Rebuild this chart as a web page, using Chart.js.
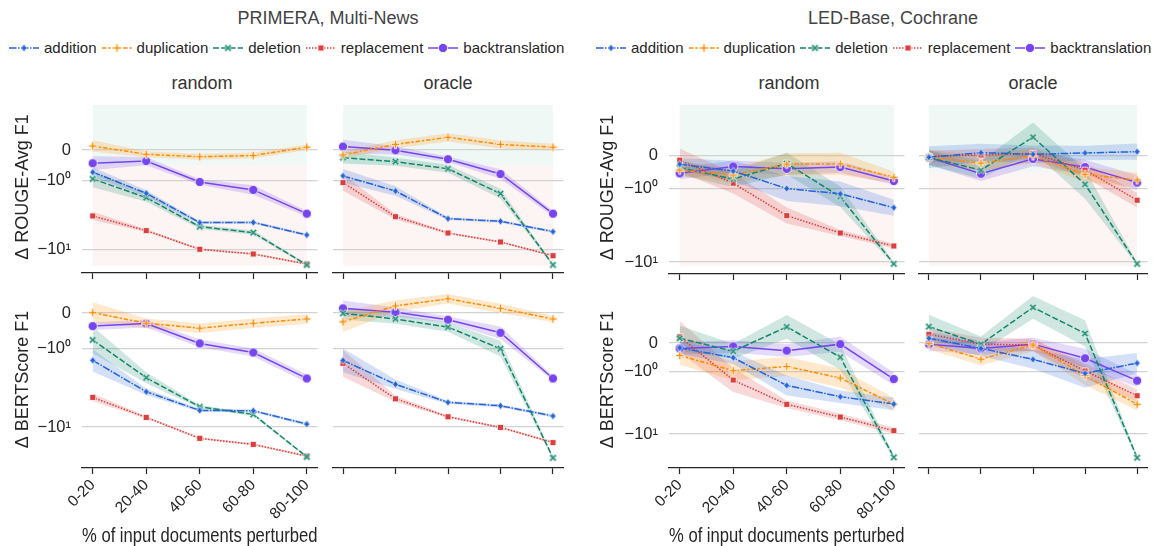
<!DOCTYPE html>
<html>
<head>
<meta charset="utf-8">
<script src="https://cdn.jsdelivr.net/npm/chart.js@4.4.0/dist/chart.umd.min.js"></script>
<style>
    body { margin: 0; background: #fff; width: 1153px; height: 546px; overflow: hidden; position: relative;
           font-family: "Liberation Sans", Arial, sans-serif; color: #262626; }
    canvas.panel { position: absolute; }
    .gtitle { position: absolute; font-size: 18px; line-height: 20px; color: #444; transform: translateX(-50%); white-space: nowrap; }
    .ptitle { position: absolute; font-size: 18px; line-height: 20px; color: #333; transform: translateX(-50%); white-space: nowrap; }
    .legend { position: absolute; display: flex; align-items: center; font-size: 15px; line-height: 18px; white-space: nowrap; }
    .legend .item { display: flex; align-items: center; margin-right: 5px; }
    .legend canvas { margin-right: 5px; }
</style>
</head>
<body>
<div class="gtitle" style="left:328px; top:8px;">PRIMERA, Multi-News</div>
<div class="gtitle" style="left:893px; top:8px;">LED-Base, Cochrane</div>
<div class="legend" id="legend-left" style="left:9px; top:39px;"></div>
<div class="legend" id="legend-right" style="left:596px; top:39px;"></div>
<div class="ptitle" style="left:202px; top:73px;">random</div>
<div class="ptitle" style="left:448px; top:73px;">oracle</div>
<div class="ptitle" style="left:789px; top:73px;">random</div>
<div class="ptitle" style="left:1033px; top:73px;">oracle</div>

<script>
const categories = ['0-20', '20-40', '40-60', '60-80', '80-100'];
const perturbations = ['addition', 'duplication', 'deletion', 'replacement', 'backtranslation'];
const yTickValues = [0, -1, -10];
const yTickLabels = ['0', '\u221210\u2070', '\u221210\u00b9'];

// rows of every table: addition, duplication, deletion, replacement, backtranslation
// PRIMERA, Multi-News -- delta ROUGE-Avg F1
const mnRougeRandom = [
    [-0.72, -1.52, -4.08, -4.05, -6.18],
    [0.13, -0.14, -0.22, -0.18, 0.09],
    [-0.94, -1.76, -4.68, -5.71, -16.9],
    [-3.26, -5.34, -10.0, -11.7, -16.4],
    [-0.43, -0.36, -1.04, -1.36, -3.02],
];
const mnRougeOracle = [
    [-0.84, -1.41, -3.57, -3.90, -5.53],
    [-0.16, 0.18, 0.41, 0.18, 0.09],
    [-0.25, -0.38, -0.61, -1.54, -16.9],
    [-1.06, -3.34, -5.78, -7.82, -12.4],
    [0.11, -0.01, -0.30, -0.78, -3.02],
];
// PRIMERA, Multi-News -- delta BERTScore F1
const mnBertRandom = [
    [-1.42, -3.56, -6.14, -6.2, -9.16],
    [0.01, -0.29, -0.43, -0.29, -0.17],
    [-0.76, -2.36, -5.52, -6.90, -23.9],
    [-4.20, -7.53, -13.9, -16.6, -23.4],
    [-0.37, -0.30, -0.86, -1.13, -2.41],
];
const mnBertOracle = [
    [-1.42, -2.86, -4.85, -5.36, -7.24],
    [-0.25, 0.20, 0.40, 0.13, -0.17],
    [-0.01, -0.17, -0.40, -1.01, -24.6],
    [-1.55, -4.37, -7.39, -10.1, -15.7],
    [0.13, 0.02, -0.19, -0.56, -2.41],
];
// LED-Base, Cochrane -- delta ROUGE-Avg F1
const cochRougeRandom = [
    [-0.25, -0.46, -0.99, -1.17, -1.81],
    [-0.43, -0.58, -0.25, -0.24, -0.65],
    [-0.36, -0.70, -0.23, -1.28, -10.6],
    [-0.13, -0.83, -2.32, -4.01, -6.04],
    [-0.53, -0.32, -0.39, -0.34, -0.76],
];
const cochRougeOracle = [
    [-0.04, 0.10, 0.05, 0.09, 0.13],
    [-0.03, -0.22, 0.0, -0.56, -0.73],
    [-0.05, -0.43, 0.57, -0.86, -10.6],
    [-0.02, 0.03, 0.08, -0.43, -1.43],
    [-0.05, -0.54, -0.09, -0.34, -0.81],
];
// LED-Base, Cochrane -- delta BERTScore F1
const cochBertRandom = [
    [-0.17, -0.52, -1.68, -2.54, -3.32],
    [-0.44, -0.98, -0.83, -1.28, -3.35],
    [0.17, -0.29, 0.57, -0.50, -23.4],
    [0.22, -1.38, -3.36, -5.35, -8.83],
    [-0.19, -0.12, -0.27, -0.04, -1.33],
];
const cochBertOracle = [
    [0.17, -0.19, -0.58, -1.08, -0.71],
    [-0.01, -0.57, -0.07, -1.17, -3.36],
    [0.58, -0.04, 1.31, 0.34, -23.8],
    [0.31, -0.04, -0.07, -0.99, -2.45],
    [-0.04, -0.19, -0.04, -0.54, -1.41],
];

// half width of the confidence band, measured on the symlog axis (1 = one decade)
const mnRougeRandomCi = [
    [0.07, 0.045, 0.02, 0.02, 0.02],
    [0.085, 0.045, 0.045, 0.045, 0.04],
    [0.12, 0.06, 0.03, 0.03, 0.015],
    [0.06, 0.02, 0.015, 0.015, 0.015],
    [0.1, 0.06, 0.04, 0.07, 0.04],
];
const mnRougeOracleCi = [
    [0.1, 0.07, 0.02, 0.02, 0.02],
    [0.05, 0.06, 0.06, 0.06, 0.05],
    [0.085, 0.06, 0.06, 0.07, 0.015],
    [0.12, 0.04, 0.015, 0.015, 0.015],
    [0.1, 0.06, 0.04, 0.07, 0.04],
];
const mnBertRandomCi = [
    [0.14, 0.04, 0.02, 0.02, 0.02],
    [0.13, 0.06, 0.06, 0.06, 0.06],
    [0.17, 0.07, 0.02, 0.02, 0.015],
    [0.05, 0.015, 0.015, 0.015, 0.015],
    [0.05, 0.05, 0.05, 0.05, 0.05],
];
const mnBertOracleCi = [
    [0.15, 0.06, 0.02, 0.02, 0.02],
    [0.13, 0.07, 0.06, 0.06, 0.04],
    [0.08, 0.06, 0.06, 0.1, 0.02],
    [0.17, 0.04, 0.015, 0.015, 0.015],
    [0.1, 0.06, 0.04, 0.08, 0.03],
];
const cochRougeRandomCi = [
    [0.08, 0.14, 0.17, 0.17, 0.11],
    [0.08, 0.1, 0.15, 0.15, 0.08],
    [0.1, 0.11, 0.15, 0.14, 0.02],
    [0.16, 0.14, 0.11, 0.04, 0.03],
    [0.08, 0.08, 0.08, 0.08, 0.05],
];
const cochRougeOracleCi = [
    [0.15, 0.12, 0.12, 0.1, 0.11],
    [0.1, 0.1, 0.1, 0.1, 0.1],
    [0.1, 0.12, 0.2, 0.2, 0.02],
    [0.08, 0.08, 0.08, 0.1, 0.1],
    [0.1, 0.1, 0.1, 0.1, 0.1],
];
const cochBertRandomCi = [
    [0.1, 0.1, 0.16, 0.1, 0.1],
    [0.15, 0.15, 0.15, 0.15, 0.1],
    [0.2, 0.12, 0.19, 0.2, 0.03],
    [0.25, 0.19, 0.06, 0.05, 0.05],
    [0.1, 0.1, 0.1, 0.12, 0.1],
];
const cochBertOracleCi = [
    [0.1, 0.12, 0.15, 0.23, 0.16],
    [0.1, 0.1, 0.1, 0.15, 0.1],
    [0.19, 0.12, 0.18, 0.21, 0.03],
    [0.1, 0.1, 0.1, 0.12, 0.1],
    [0.1, 0.1, 0.1, 0.15, 0.1],
];

// y limits [bottom, top] and the shaded "gain / loss" backdrop of the ROUGE row
const mnRougeLimits = [-22.2, 1.84];
const cochRougeLimits = [-14.6, 2.0];
const mnBertLimits = [-33.1, 0.62];
const cochBertLimits = [-34.7, 2.39];
const mnShade = [-17.5, 1.61];
const cochShade = [-11.3, 1.77];
const shadeSplit = -0.5;

const colors = ['#2563d9', '#ff8c00', '#12876b', '#dc3d3d', '#7645f0'];
const bandColors = ['rgba(37,99,217,0.2)', 'rgba(255,140,0,0.2)', 'rgba(18,135,107,0.2)', 'rgba(220,61,61,0.2)', 'rgba(118,69,240,0.2)'];
const dashes = [[7.5, 1.5, 1.5, 1.5], [4.5, 1.9, 2.25, 1.9], [6, 2.25], [1.5, 1.5], []];
const shapes = ['diamond', 'plus', 'x', 'square', 'circle'];

const FONT = '"Liberation Sans", Arial, sans-serif';
Chart.defaults.font.family = FONT;
Chart.defaults.color = '#262626';

// symlog: linear between -1 and 1, log10 outside
const LIN = 0.45;
function symlog(v) {
    const m = Math.abs(v);
    const u = m <= 1 ? m * LIN : LIN + Math.log10(m);
    return Math.sign(v) * u;
}

function makeMarker(shape, color) {
    const size = shape === 'circle' ? 12 : 11;
    const c = document.createElement('canvas');
    c.width = size;
    c.height = size;
    const g = c.getContext('2d');
    g.translate(size / 2, size / 2);
    g.fillStyle = color;
    g.strokeStyle = '#fff';
    g.lineWidth = 0.8;
    g.beginPath();
    if (shape === 'circle') {
        g.arc(0, 0, 4.6, 0, Math.PI * 2);
    } else if (shape === 'square') {
        g.rect(-3, -3, 6, 6);
    } else if (shape === 'diamond') {
        g.moveTo(0, -3.8); g.lineTo(3, 0); g.lineTo(0, 3.8); g.lineTo(-3, 0);
    } else {
        if (shape === 'x') g.rotate(Math.PI / 4);
        const t = 1.1, r = 4.2;
        g.moveTo(-t, -r); g.lineTo(t, -r); g.lineTo(t, -t); g.lineTo(r, -t); g.lineTo(r, t);
        g.lineTo(t, t); g.lineTo(t, r); g.lineTo(-t, r); g.lineTo(-t, t); g.lineTo(-r, t);
        g.lineTo(-r, -t); g.lineTo(-t, -t);
    }
    g.closePath();
    g.fill();
    g.stroke();
    return c;
}
const markers = shapes.map((s, i) => makeMarker(s, colors[i]));

function legendIcon(i) {
    const c = document.createElement('canvas');
    c.width = 30;
    c.height = 14;
    const g = c.getContext('2d');
    g.strokeStyle = colors[i];
    g.lineWidth = 1.5;
    g.setLineDash(dashes[i]);
    g.beginPath();
    g.moveTo(0, 7);
    g.lineTo(30, 7);
    g.stroke();
    g.drawImage(markers[i], 15 - markers[i].width / 2, 7 - markers[i].height / 2);
    return c;
}

['legend-left', 'legend-right'].forEach(id => {
    const box = document.getElementById(id);
    perturbations.forEach((name, i) => {
        const item = document.createElement('div');
        item.className = 'item';
        item.appendChild(legendIcon(i));
        const label = document.createElement('span');
        label.textContent = name;
        item.appendChild(label);
        box.appendChild(item);
    });
});

const shadePlugin = {
    id: 'shade',
    beforeDraw(chart, args, opts) {
        if (!opts.range) return;
        const { ctx, scales: { x, y } } = chart;
        const x0 = x.getPixelForValue(0);
        const x1 = x.getPixelForValue(categories.length - 1);
        const yTop = y.getPixelForValue(symlog(opts.range[1]));
        const ySplit = y.getPixelForValue(symlog(shadeSplit));
        const yBot = y.getPixelForValue(symlog(opts.range[0]));
        ctx.save();
        ctx.fillStyle = 'rgba(0,128,96,0.06)';
        ctx.fillRect(x0, yTop, x1 - x0, ySplit - yTop);
        ctx.fillStyle = 'rgba(220,60,60,0.06)';
        ctx.fillRect(x0, ySplit, x1 - x0, yBot - ySplit);
        ctx.restore();
    }
};

const panels = [
    { data: mnRougeRandom, ci: mnRougeRandomCi, lim: mnRougeLimits, shade: mnShade, left: 0, top: 91, width: 323, yW: 82, areaH: 172, xH: 10, yTitle: '\u0394 ROUGE-Avg F1' },
    { data: mnRougeOracle, ci: mnRougeOracleCi, lim: mnRougeLimits, shade: mnShade, left: 327, top: 91, width: 242, yW: 0, areaH: 172, xH: 10 },
    { data: cochRougeRandom, ci: cochRougeRandomCi, lim: cochRougeLimits, shade: cochShade, left: 585, top: 91, width: 325, yW: 84, areaH: 173, xH: 10, yTitle: '\u0394 ROUGE-Avg F1' },
    { data: cochRougeOracle, ci: cochRougeOracleCi, lim: cochRougeLimits, shade: cochShade, left: 913, top: 91, width: 240, yW: 0, areaH: 173, xH: 10 },
    { data: mnBertRandom, ci: mnBertRandomCi, lim: mnBertLimits, left: 0, top: 281, width: 323, yW: 82, areaH: 177, xH: 78, yTitle: '\u0394 BERTScore F1', xTitle: true },
    { data: mnBertOracle, ci: mnBertOracleCi, lim: mnBertLimits, left: 327, top: 281, width: 242, yW: 0, areaH: 177, xH: 10 },
    { data: cochBertRandom, ci: cochBertRandomCi, lim: cochBertLimits, left: 585, top: 281, width: 325, yW: 84, areaH: 177, xH: 78, yTitle: '\u0394 BERTScore F1', xTitle: true },
    { data: cochBertOracle, ci: cochBertOracleCi, lim: cochBertLimits, left: 913, top: 281, width: 240, yW: 0, areaH: 177, xH: 10 },
];

const PAD_TOP = 10;

panels.forEach(p => {
    const canvas = document.createElement('canvas');
    canvas.className = 'panel';
    canvas.width = p.width;
    canvas.height = PAD_TOP + p.areaH + p.xH;
    canvas.style.left = p.left + 'px';
    canvas.style.top = p.top + 'px';
    document.body.appendChild(canvas);

    const lines = p.data.map((vals, i) => ({
        label: perturbations[i],
        data: vals.map((v, j) => ({ x: j, y: symlog(v) })),
        borderColor: colors[i],
        borderWidth: 1.5,
        borderDash: dashes[i],
        pointStyle: markers[i],
        pointRadius: 4,
        fill: false,
    }));
    const bands = [];
    p.data.forEach((vals, i) => {
        bands.push({
            data: vals.map((v, j) => ({ x: j, y: symlog(v) - p.ci[i][j] })),
            borderColor: 'transparent', borderWidth: 1, pointRadius: 0, fill: false,
        });
        bands.push({
            data: vals.map((v, j) => ({ x: j, y: symlog(v) + p.ci[i][j] })),
            borderColor: 'transparent', borderWidth: 1, pointRadius: 0,
            fill: '-1', backgroundColor: bandColors[i],
        });
    });

    new Chart(canvas, {
        type: 'line',
        data: { datasets: [...lines, ...bands] },
        plugins: [shadePlugin],
        options: {
            responsive: false,
            animation: false,
            events: [],
            devicePixelRatio: 1,
            layout: { padding: { top: PAD_TOP, left: 0, right: 0, bottom: 0 } },
            plugins: {
                legend: { display: false },
                tooltip: { enabled: false },
                filler: { drawTime: 'beforeDatasetsDraw' },
                shade: { range: p.shade || null },
            },
            scales: {
                x: {
                    type: 'linear',
                    min: -0.2,
                    max: categories.length - 0.8,
                    afterBuildTicks: s => { s.ticks = categories.map((c, i) => ({ value: i })); },
                    afterFit: s => { s.height = p.xH; s.paddingLeft = 0; s.paddingRight = 0; },
                    grid: { display: true, drawOnChartArea: false, drawTicks: true, tickLength: 6, tickColor: '#262626', tickWidth: 1.2 },
                    border: { display: true, color: '#262626', width: 1.3 },
                    ticks: {
                        display: !!p.xTitle,
                        autoSkip: false,
                        minRotation: 45,
                        maxRotation: 45,
                        padding: 2,
                        font: { size: 15.5 },
                        color: '#262626',
                        callback: (v, i) => categories[i],
                    },
                    title: {
                        display: !!p.xTitle,
                        text: '% of input documents perturbed',
                        font: { size: 19.5 },
                        color: '#262626',
                        padding: { top: 0, bottom: -2 },
                    },
                },
                y: {
                    type: 'linear',
                    min: symlog(p.lim[0]),
                    max: symlog(p.lim[1]),
                    afterBuildTicks: s => { s.ticks = yTickValues.map(v => ({ value: symlog(v) })); },
                    afterFit: s => { s.width = p.yW; s.paddingTop = 0; s.paddingBottom = 0; },
                    grid: { color: '#d2d2d2', lineWidth: 1.2, drawTicks: false },
                    border: { display: false },
                    ticks: {
                        display: !!p.yTitle,
                        padding: 11,
                        font: { size: 16.5 },
                        color: '#262626',
                        callback: (v, i) => yTickLabels[i],
                    },
                    title: {
                        display: !!p.yTitle,
                        text: p.yTitle || '',
                        font: { size: 18 },
                        color: '#262626',
                        padding: { top: 12, bottom: 0 },
                    },
                },
            },
        },
    });
});
</script>
</body>
</html>
